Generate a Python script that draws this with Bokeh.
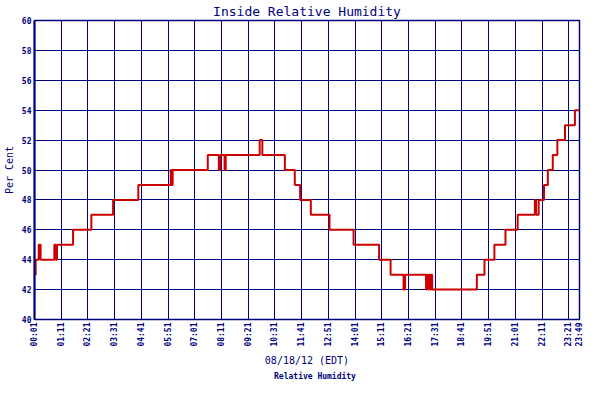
from math import pi
from bokeh.plotting import figure
from bokeh.layouts import column
from bokeh.models import FixedTicker, Range1d, Legend, LegendItem, ColumnDataSource
from bokeh.embed import file_html
from bokeh.resources import INLINE

title_text = "Inside Relative Humidity"
x_label = "08/18/12 (EDT)"
y_label = "Per Cent"
series_name = "Relative Humidity"

tick_labels = ["00:01", "01:11", "02:21", "03:31", "04:41", "05:51", "07:01",
               "08:11", "09:21", "10:31", "11:41", "12:51", "14:01", "15:11",
               "16:21", "17:31", "18:41", "19:51", "21:01", "22:11", "23:21",
               "23:49"]
y_ticks = [40, 42, 44, 46, 48, 50, 52, 54, 56, 58, 60]

# times at which the reading changed, and the new reading (step after)
change_times = ["00:01", "00:04", "00:12", "00:17", "00:53", "00:57", "01:00",
                "01:42", "02:30", "03:27", "04:33", "05:58", "06:00", "06:03",
                "07:35", "08:04", "08:08", "08:19", "08:22", "09:51", "09:58",
                "10:57", "11:23", "11:37", "12:05", "12:54", "13:57", "15:04",
                "15:34", "16:08", "16:12", "17:07", "17:09", "17:13", "17:15",
                "17:18", "17:20", "17:23", "19:20", "19:40", "20:06", "20:35",
                "21:07", "21:52", "21:55", "22:02", "22:16", "22:26", "22:39",
                "22:51", "23:11", "23:37", "23:49"]
rh_values = [43, 44, 45, 44, 45, 44, 45,
             46, 47, 48, 49, 50, 49, 50,
             51, 50, 51, 50, 51, 52, 51,
             50, 49, 48, 47, 46, 45, 44,
             43, 42, 43, 42, 43, 42, 43,
             42, 43, 42, 43, 44, 45, 46,
             47, 48, 47, 48, 49, 50, 51,
             52, 53, 54, 54]


def to_min(s):
    h, m = s.split(":")
    return int(h) * 60 + int(m)


NAVY = "#000080"
RED = "#cc0000"
MONO = "DejaVu Sans Mono"

xs = [to_min(t) for t in change_times]
tick_pos = [to_min(t) for t in tick_labels]
src = ColumnDataSource(dict(x=xs, y=rh_values))

p = figure(width=584, height=368, output_backend="svg", toolbar_location=None,
           x_range=Range1d(tick_pos[0], tick_pos[-1]), y_range=Range1d(40, 60),
           min_border_left=4, min_border_right=5, min_border_top=0,
           min_border_bottom=0)

p.title.text = title_text
p.title.text_font = MONO
p.title.text_font_size = "13px"
p.title.text_font_style = "normal"
p.title.text_color = NAVY
p.title.align = "center"
p.title.standoff = 3
p.title.offset = 0

r = p.step("x", "y", source=src, mode="after", line_color=RED, line_width=2)

p.xaxis.ticker = FixedTicker(ticks=tick_pos)
p.xaxis.major_label_overrides = {pos: lab for pos, lab in zip(tick_pos, tick_labels)}
p.xaxis.major_label_orientation = pi / 2
p.yaxis.ticker = FixedTicker(ticks=y_ticks)

for ax in (p.xaxis[0], p.yaxis[0]):
    ax.major_tick_out = 0
    ax.major_tick_in = 0
    ax.minor_tick_out = 0
    ax.minor_tick_in = 0
    ax.axis_line_color = NAVY
    ax.major_label_text_font = MONO
    ax.major_label_text_font_size = "8px"
    ax.major_label_text_font_style = "bold"
    ax.major_label_text_color = NAVY
    ax.axis_label_text_font = MONO
    ax.axis_label_text_font_style = "normal"
    ax.axis_label_text_color = NAVY
    ax.major_label_standoff = 3

p.xaxis.axis_label = x_label
p.xaxis.axis_label_text_font_size = "10px"
p.xaxis.axis_label_standoff = 5
p.yaxis.axis_label = y_label
p.yaxis.axis_label_text_font_size = "10px"
p.yaxis.axis_label_standoff = 4
p.yaxis.axis_line_width = 2

p.grid.grid_line_color = NAVY
p.grid.grid_line_width = 1
p.outline_line_color = NAVY
p.outline_line_width = 1.5
p.background_fill_color = "white"
p.border_fill_color = "white"

# legend strip under the chart
q = figure(width=584, height=16, title=None, output_backend="svg",
           toolbar_location=None, x_range=Range1d(0, 1), y_range=Range1d(0, 1),
           min_border_left=0, min_border_right=0, min_border_top=0,
           min_border_bottom=0)
q.axis.visible = False
q.grid.visible = False
q.outline_line_color = None
q.background_fill_color = "white"
q.border_fill_color = "white"
rq = q.step(x=[], y=[], mode="after", line_color=RED, line_width=2)

legend = Legend(items=[LegendItem(label=series_name, renderers=[rq])],
                orientation="horizontal", location="center",
                glyph_width=14, glyph_height=8, label_height=8,
                label_text_font=MONO, label_text_font_size="8px",
                label_text_font_style="bold", label_text_color=NAVY,
                label_standoff=3, padding=0, margin=0, spacing=0,
                border_line_alpha=0, background_fill_alpha=0)
q.add_layout(legend, "center")

open("out.html", "w").write(file_html(column(p, q, spacing=0), INLINE))
